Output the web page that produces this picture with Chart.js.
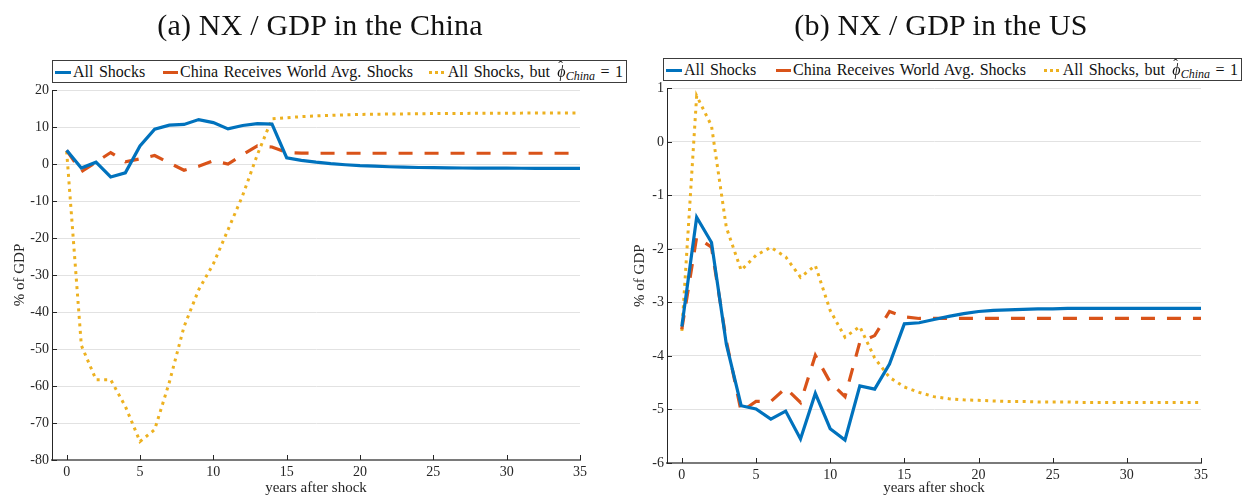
<!DOCTYPE html>
<html>
<head>
<meta charset="utf-8">
<script src="https://cdn.jsdelivr.net/npm/chart.js@4/dist/chart.umd.min.js"></script>
<style>
  html, body { margin: 0; padding: 0; background: #fff; }
  #wrap { position: relative; width: 1243px; height: 497px; overflow: hidden; font-family: 'Liberation Serif', serif; }
  canvas { position: absolute; top: 0; }
  #chinaChart { left: 0; }
  #usChart { left: 625px; }
  .title {
    position: absolute; top: 7px; width: 500px; text-align: center;
    font-size: 30px; line-height: 36px; letter-spacing: 0.2px; color: #111; white-space: nowrap;
  }
  #chinaTitle { left: 70px; }
  #usTitle { left: 691px; }
  .legend {
    position: absolute; box-sizing: border-box; height: 23px;
    border: 1px solid #3c3c3c; background: #fff;
    display: flex; align-items: center; justify-content: space-between;
    padding: 0 3px 0 2px; font-size: 16px; word-spacing: 1.5px; color: #111; white-space: nowrap;
  }
  #chinaLegend { left: 52px; top: 60px; width: 575px; }
  #usLegend { left: 663px; top: 58px; width: 579px; }
  .item { display: block; line-height: 21px; }
  .swatch { display: inline-block; width: 16px; height: 3px; margin-right: 2px; vertical-align: middle; position: relative; top: -1px; }
  .solid { background: #0072BD; }
  .dashed { background: #D95319; width: 15px; margin-left: 2px; }
  .dotted { background: repeating-linear-gradient(90deg, #EDB120 0 3px, transparent 3px 6px); width: 17px; }
  .phihat { position: relative; display: inline-block; margin-left: 2px; }
  .phihat .hat { position: absolute; left: 1px; top: -5px; font-style: normal; font-size: 14px; }
  sub { font-size: 12px; vertical-align: -3px; line-height: 0; }
</style>
</head>
<body>
<div id="wrap">
  <canvas id="chinaChart" width="625" height="497"></canvas>
  <canvas id="usChart" width="618" height="497"></canvas>
  <div class="title" id="chinaTitle"></div>
  <div class="title" id="usTitle"></div>
  <div class="legend" id="chinaLegend"></div>
  <div class="legend" id="usLegend"></div>
</div>
<script>
// years after shock, 0..35
const years = Array.from({ length: 36 }, (_, i) => i);
const xTickValues = [0, 5, 10, 15, 20, 25, 30, 35];

const panelTitles = ['(a) NX / GDP in the China', '(b) NX / GDP in the US'];
const seriesLabels = ['All Shocks', 'China Receives World Avg. Shocks', 'All Shocks, but ϕ̂China = 1'];

// (a) China, % of GDP
const chinaAllShocks = [3.7, -1.1, 0.5, -3.5, -2.4, 4.9, 9.4, 10.5, 10.7, 12.0, 11.2, 9.5, 10.4, 10.9, 10.8,
  1.7, 1.0, 0.5, 0.1, -0.2, -0.45, -0.6, -0.75, -0.85, -0.95, -1.0, -1.05, -1.08, -1.1, -1.12, -1.14,
  -1.15, -1.16, -1.17, -1.18, -1.2];
const chinaWorldAvg = [3.7, -2.1, 0.5, 3.1, 0.6, 1.4, 2.3, 0.3, -1.7, -0.6, 0.9, 0.0, 2.5, 4.9, 4.6,
  3.1, 2.95, 2.9, 2.9, 2.9, 2.9, 2.9, 2.9, 2.9, 2.9, 2.9, 2.9, 2.9, 2.9, 2.9, 2.9,
  2.9, 2.9, 2.9, 2.9, 2.9];
const chinaPhiOne = [3.4, -49.0, -58.3, -58.3, -65.5, -75.0, -71.8, -59.0, -44.0, -34.0, -27.0, -17.8, -8.5, 2.5, 12.2,
  12.5, 12.8, 13.0, 13.15, 13.3, 13.4, 13.45, 13.5, 13.55, 13.6, 13.62, 13.65, 13.67, 13.7, 13.72, 13.74,
  13.75, 13.76, 13.77, 13.78, 13.8];
const chinaYTicks = [-80, -70, -60, -50, -40, -30, -20, -10, 0, 10, 20];

// (b) US, % of GDP
const usAllShocks = [-3.45, -1.41, -1.88, -3.78, -4.93, -4.99, -5.18, -5.03, -5.55, -4.70, -5.36, -5.57, -4.56, -4.62, -4.15,
  -3.40, -3.38, -3.32, -3.26, -3.21, -3.17, -3.15, -3.14, -3.13, -3.12, -3.12, -3.11, -3.11, -3.11, -3.11, -3.11,
  -3.11, -3.11, -3.11, -3.11, -3.11];
const usWorldAvg = [-3.5, -1.78, -1.97, -3.72, -5.04, -4.85, -4.85, -4.6, -4.87, -3.99, -4.49, -4.76, -3.74, -3.62, -3.17,
  -3.27, -3.3, -3.3, -3.3, -3.3, -3.3, -3.3, -3.3, -3.3, -3.3, -3.3, -3.3, -3.3, -3.3, -3.3, -3.3,
  -3.3, -3.3, -3.3, -3.3, -3.3];
const usPhiOne = [-3.53, 0.86, 0.3, -1.6, -2.4, -2.12, -1.97, -2.15, -2.53, -2.31, -3.15, -3.65, -3.45, -4.04, -4.40,
  -4.58, -4.68, -4.76, -4.8, -4.82, -4.83, -4.84, -4.85, -4.85, -4.86, -4.86, -4.86, -4.87, -4.87, -4.87, -4.87,
  -4.87, -4.87, -4.87, -4.87, -4.87];
const usYTicks = [-6, -5, -4, -3, -2, -1, 0, 1];

const SERIF = "'Liberation Serif', serif";

// MATLAB style: short tick marks pointing into the plot
const inwardTicks = {
  id: 'inwardTicks',
  beforeDatasetsDraw(chart) {
    const { ctx, chartArea, scales } = chart;
    ctx.save();
    ctx.strokeStyle = '#262626';
    ctx.lineWidth = 1;
    ctx.beginPath();
    scales.y.ticks.forEach(t => {
      const y = Math.round(scales.y.getPixelForValue(t.value)) + 0.5;
      ctx.moveTo(chartArea.left, y);
      ctx.lineTo(chartArea.left + 5, y);
    });
    scales.x.ticks.forEach(t => {
      const x = Math.round(scales.x.getPixelForValue(t.value)) + 0.5;
      ctx.moveTo(x, chartArea.bottom);
      ctx.lineTo(x, chartArea.bottom - 5);
    });
    ctx.stroke();
    ctx.restore();
  }
};

function makeDatasets(all, world, phi) {
  return [
    { label: seriesLabels[0], data: all, borderColor: '#0072BD', borderWidth: 3.2, swatch: 'solid' },
    { label: seriesLabels[1], data: world, borderColor: '#D95319', borderWidth: 3.2, borderDash: [14, 12], swatch: 'dashed' },
    { label: seriesLabels[2], data: phi, borderColor: '#EDB120', borderWidth: 3, borderDash: [3, 4.5], swatch: 'dotted' }
  ].map(ds => ({ ...ds, pointRadius: 0, tension: 0, fill: false }));
}

function makeChart(canvasId, cfg) {
  const ctx = document.getElementById(canvasId).getContext('2d');
  return new Chart(ctx, {
    type: 'line',
    data: { labels: years, datasets: makeDatasets(cfg.all, cfg.world, cfg.phi) },
    options: {
      responsive: false,
      animation: false,
      layout: { padding: { left: 0, right: cfg.padRight, bottom: 0, top: cfg.padTop } },
      plugins: {
        legend: { display: false },
        tooltip: { enabled: false }
      },
      scales: {
        x: {
          type: 'linear',
          min: -1,
          max: 35,
          afterBuildTicks: scale => { scale.ticks = xTickValues.map(v => ({ value: v })); },
          afterFit: scale => { scale.height = cfg.xHeight; },
          grid: { display: false, drawTicks: false },
          border: { display: true, color: '#7a7a7a', width: 2 },
          ticks: { padding: 4, color: '#262626', font: { family: SERIF, size: 14 } },
          title: {
            display: true,
            text: 'years after shock',
            color: '#262626',
            font: { family: SERIF, size: 15 },
            padding: { top: 0, bottom: 0 }
          }
        },
        y: {
          min: cfg.yTicks[0],
          max: cfg.yTicks[cfg.yTicks.length - 1],
          afterBuildTicks: scale => { scale.ticks = cfg.yTicks.map(v => ({ value: v })); },
          afterFit: scale => { scale.width = cfg.yWidth; },
          grid: { color: '#e2e2e2', lineWidth: 1, drawTicks: false },
          border: { display: true, color: '#262626', width: 1 },
          ticks: { padding: 3, color: '#262626', font: { family: SERIF, size: 14 } },
          title: {
            display: true,
            text: '% of GDP',
            color: '#262626',
            font: { family: SERIF, size: 15 },
            padding: { top: cfg.yTitlePad, bottom: 0 }
          }
        }
      }
    },
    plugins: [inwardTicks]
  });
}

function formatLabel(label) {
  return label.replace('ϕ̂China = 1',
    '<span class="phihat"><i>ϕ</i><span class="hat">ˆ</span></span><sub><i>China</i></sub> = 1');
}

function buildLegend(elId, chart) {
  const el = document.getElementById(elId);
  el.innerHTML = chart.data.datasets.map(ds =>
    `<span class="item"><span class="swatch ${ds.swatch}"></span>${formatLabel(ds.label)}</span>`
  ).join('');
}

const chinaChart = makeChart('chinaChart', {
  all: chinaAllShocks, world: chinaWorldAvg, phi: chinaPhiOne,
  yTicks: chinaYTicks,
  padTop: 90, xHeight: 37, yWidth: 52, yTitlePad: 11, padRight: 45
});

const usChart = makeChart('usChart', {
  all: usAllShocks, world: usWorldAvg, phi: usPhiOne,
  yTicks: usYTicks,
  padTop: 88.3, xHeight: 34, yWidth: 42, yTitlePad: 6, padRight: 42
});

document.getElementById('chinaTitle').textContent = panelTitles[0];
document.getElementById('usTitle').textContent = panelTitles[1];
buildLegend('chinaLegend', chinaChart);
buildLegend('usLegend', usChart);
</script>
</body>
</html>
